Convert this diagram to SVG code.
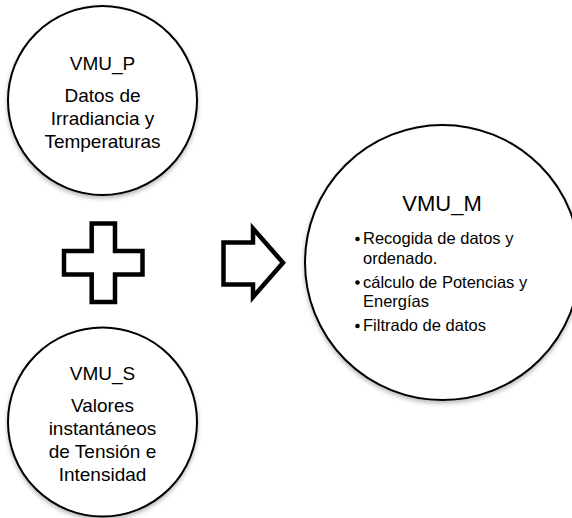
<svg xmlns="http://www.w3.org/2000/svg" width="572" height="518" viewBox="0 0 572 518">
<defs>
<filter id="sh" x="-20%" y="-20%" width="140%" height="150%">
<feDropShadow dx="0" dy="2.5" stdDeviation="2" flood-color="#000" flood-opacity="0.28"/>
</filter>
<style>
.c{fill:#fff;stroke:#000;stroke-width:2;filter:url(#sh)}
.t{font-family:"Liberation Sans",Arial,sans-serif;font-size:19px;fill:#000;text-anchor:middle}
.h{font-size:22px}
.b{font-family:"Liberation Sans",Arial,sans-serif;font-size:16.5px;fill:#000}
.s{fill:#fff;stroke:#000;stroke-width:4.5;stroke-linejoin:miter}
</style>
</defs>
<rect width="572" height="518" fill="#fff"/>
<g id="vmu_p">
<circle class="c" cx="102.5" cy="100.5" r="94.5"/>
<text class="t" x="102.5" y="70">VMU_P</text>
<text class="t" x="102.5" y="102">Datos de</text>
<text class="t" x="102.5" y="125">Irradiancia y</text>
<text class="t" x="102.5" y="148">Temperaturas</text>
</g>
<g id="vmu_s">
<circle class="c" cx="102.5" cy="422" r="94.5"/>
<text class="t" x="102.5" y="380">VMU_S</text>
<text class="t" x="102.5" y="412">Valores</text>
<text class="t" x="102.5" y="435">instantáneos</text>
<text class="t" x="102.5" y="458">de Tensión e</text>
<text class="t" x="102.5" y="481">Intensidad</text>
</g>
<g id="vmu_m">
<circle class="c" cx="442.5" cy="262.5" r="137.5"/>
<text class="t h" x="442" y="211">VMU_M</text>
<circle cx="357.5" cy="239" r="2.3" fill="#000"/>
<text class="b" x="363" y="244">Recogida de datos y</text>
<text class="b" x="363" y="263.5">ordenado.</text>
<circle cx="357.5" cy="282.5" r="2.3" fill="#000"/>
<text class="b" x="363" y="287.5">cálculo de Potencias y</text>
<text class="b" x="363" y="307">Energías</text>
<circle cx="357.5" cy="326" r="2.3" fill="#000"/>
<text class="b" x="363" y="331">Filtrado de datos</text>
</g>
<g id="connectors">
<path id="plus" class="s" d="M91.7,223.5 H115 V251 H142.5 V274.5 H115 V302 H91.7 V274.5 H64 V251 H91.7 Z"/>
<path id="arrow" class="s" d="M223.5,242.5 H253 V228.5 L283,262.75 L253,297 V284.5 H223.5 Z"/>
</g>
</svg>
